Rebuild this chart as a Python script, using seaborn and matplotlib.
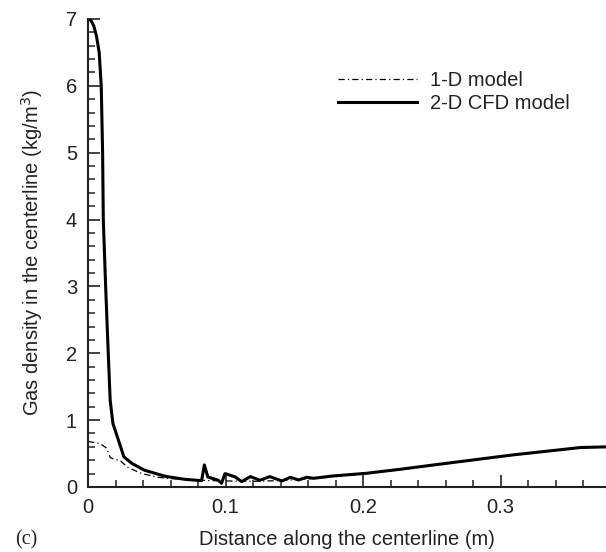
import numpy as np
import pandas as pd
import matplotlib
matplotlib.use("Agg")
import matplotlib.pyplot as plt
import seaborn as sns
from matplotlib.ticker import MultipleLocator, FuncFormatter

# ---- data ----
x_2d = [0.0, 0.002, 0.004, 0.006, 0.008, 0.0095, 0.0105, 0.011, 0.0127, 0.0146, 0.016, 0.018,
        0.022, 0.026, 0.032, 0.041, 0.056, 0.070, 0.0825, 0.0845, 0.087, 0.0946, 0.097,
        0.0995, 0.107, 0.1116, 0.118, 0.125, 0.132, 0.141, 0.147, 0.153, 0.159, 0.164,
        0.178, 0.2025, 0.227, 0.261, 0.309, 0.358, 0.377]
y_2d = [7.0, 6.98, 6.9, 6.75, 6.5, 6.0, 5.0, 4.0, 3.0, 2.0, 1.3, 0.95,
        0.70, 0.45, 0.35, 0.25, 0.16, 0.115, 0.094, 0.33, 0.15, 0.10, 0.055,
        0.20, 0.15, 0.08, 0.155, 0.10, 0.155, 0.09, 0.145, 0.105, 0.145, 0.13,
        0.165, 0.205, 0.265, 0.355, 0.48, 0.59, 0.60]

x_1d = [0.0, 0.0086, 0.0135, 0.016, 0.0195, 0.023, 0.029, 0.039, 0.051, 0.06, 0.08, 0.10,
        0.12, 0.14, 0.16, 0.18, 0.2025, 0.227, 0.261, 0.309, 0.358, 0.377]
y_1d = [0.68, 0.65, 0.58, 0.44, 0.41, 0.40, 0.29, 0.20, 0.145, 0.125, 0.10, 0.09,
        0.085, 0.095, 0.12, 0.155, 0.20, 0.26, 0.35, 0.475, 0.585, 0.60]

labels = ["1-D model", "2-D CFD model"]

plt.rcParams['font.family'] = ['Liberation Sans', 'DejaVu Sans']
fig = plt.figure(figsize=(6.06, 5.52), dpi=100)
ax = fig.add_axes([0.1455, 0.1178, 0.8545, 0.8478])

df1 = pd.DataFrame({"x": x_1d, "y": y_1d})
df2 = pd.DataFrame({"x": x_2d, "y": y_2d})
sns.lineplot(data=df1, x="x", y="y", ax=ax, color="black", lw=0.9, sort=False,
             estimator=None, label=labels[0])
sns.lineplot(data=df2, x="x", y="y", ax=ax, color="black", lw=2.2, sort=False,
             estimator=None, label=labels[1])
ax.lines[0].set_dashes([5, 2.5, 1, 2.5])

ax.set_xlim(0, 0.3766)
ax.set_ylim(0, 7)
ax.xaxis.set_major_locator(MultipleLocator(0.1))
ax.xaxis.set_minor_locator(MultipleLocator(0.02))
ax.yaxis.set_major_locator(MultipleLocator(1))
ax.yaxis.set_minor_locator(MultipleLocator(0.2))
ax.xaxis.set_major_formatter(FuncFormatter(lambda v, p: "0" if abs(v) < 1e-9 else f"{v:.1f}"))

for s in ["top", "right"]:
    ax.spines[s].set_visible(False)
for s in ["left", "bottom"]:
    ax.spines[s].set_linewidth(1.5)
    ax.spines[s].set_color("#222222")

ax.tick_params(which="major", direction="in", length=8.6, width=1.3, colors="#333333",
               labelsize=14.5, labelcolor="#222222", pad=8)
ax.tick_params(which="minor", direction="in", length=5, width=1.2, colors="#333333")

ax.set_xlabel("Distance along the centerline (m)", fontsize=14.5, color="#222222", labelpad=9)
ax.set_ylabel("Gas density in the centerline (kg/m$^3$)", fontsize=14.5, color="#222222", labelpad=15)

leg = ax.legend(loc="upper left", bbox_to_anchor=(338/606, 1 - 71/552),
                bbox_transform=fig.transFigure, frameon=False, fontsize=14.5,
                handlelength=3.9, handletextpad=0.65, labelspacing=0.2,
                borderpad=0, borderaxespad=0)
for t in leg.get_texts():
    t.set_color("#222222")

fig.text(15/606, 1 - 540/552, "(c)", family="Liberation Serif", fontsize=14.5,
         ha="left", va="center", color="#222222")

fig.savefig("out.png", dpi=100)
